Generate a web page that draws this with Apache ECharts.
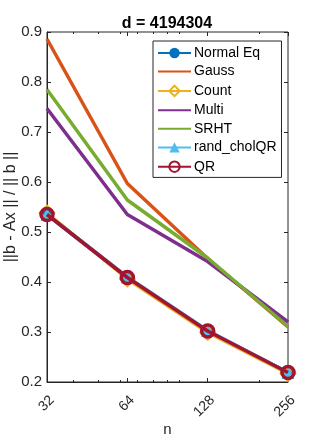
<!DOCTYPE html>
<html><head><meta charset="utf-8">
<script src="https://cdn.jsdelivr.net/npm/echarts@6/dist/echarts.min.js"></script>
<style>html,body{margin:0;padding:0;background:#fff}#c{width:319px;height:438px}</style>
</head><body><div id="c"></div>
<script>
const title = 'd = 4194304';
const nValues = [32, 64, 128, 256];
const xTickLabels = ['32', '64', '128', '256'];
const xMinorTicks = [40, 50, 60, 70, 80, 90, 100, 200];
const yTicks = [0.2, 0.3, 0.4, 0.5, 0.6, 0.7, 0.8, 0.9];
const seriesNames = ['Normal Eq', 'Gauss', 'Count', 'Multi', 'SRHT', 'rand_cholQR', 'QR'];
const normalEq = [0.535, 0.409, 0.302, 0.219];
const gauss = [0.886, 0.597, 0.447, 0.310];
const count = [0.538, 0.406, 0.299, 0.217];
const multi = [0.747, 0.535, 0.441, 0.320];
const srht = [0.785, 0.564, 0.448, 0.311];
const randCholQR = [0.535, 0.410, 0.303, 0.219];
const qr = [0.535, 0.409, 0.302, 0.219];

const colors = ['#0072BD', '#D95319', '#EDB120', '#7E2F8E', '#77AC30', '#4DBEEE', '#A2142F'];
const values = [normalEq, gauss, count, multi, srht, randCholQR, qr];
const symbols = [
  {symbol: 'circle', size: 10, fill: colors[0], border: colors[0], bw: 0},
  {symbol: 'none'},
  {symbol: 'diamond', size: 14, fill: 'none', border: colors[2], bw: 2.5},
  {symbol: 'none'},
  {symbol: 'none'},
  {symbol: 'triangle', size: 13, fill: colors[5], border: colors[5], bw: 0},
  {symbol: 'circle', size: 12, fill: 'none', border: colors[6], bw: 3.5}
];
const font = 'Liberation Sans, Arial, sans-serif';
const axisColor = '#262626';

const series = seriesNames.map((name, i) => {
  const s = symbols[i];
  return {
    name, type: 'line', xAxisIndex: 0, yAxisIndex: 0,
    data: nValues.map((n, j) => [n, values[i][j]]),
    symbol: s.symbol, symbolSize: s.size || 0, showSymbol: s.symbol !== 'none',
    lineStyle: {color: colors[i], width: 3.5},
    itemStyle: {color: s.fill || colors[i], borderColor: s.border || colors[i], borderWidth: s.bw || 0},
    z: 2 + i, animation: false, emphasis: {disabled: true}
  };
});

const legendData = seriesNames.map((name, i) =>
  symbols[i].symbol === 'none' ? {name, itemStyle: {opacity: 0}} : {name});

const chart = echarts.init(document.getElementById('c'), null, {renderer: 'canvas'});
chart.setOption({
  backgroundColor: '#fff',
  animation: false,
  color: colors,
  title: {text: title, left: 162, textAlign: 'center', top: 11,
    textStyle: {fontFamily: font, fontWeight: 'bold', fontSize: 16, color: '#000'}},
  grid: {left: 47, right: 31, top: 32, bottom: 56, show: true, borderColor: axisColor, borderWidth: 1,
    containLabel: false, outerBoundsMode: 'none'},
  legend: {
    orient: 'vertical', left: 153, top: 41, padding: [5, 5, 3, 4], itemGap: 4.6,
    itemWidth: 33, itemHeight: 13,
    backgroundColor: '#fff', borderColor: axisColor, borderWidth: 1, borderRadius: 0,
    textStyle: {fontFamily: font, fontSize: 14, lineHeight: 13, color: '#000', padding: [0, 0, 0, -2]},
    data: legendData
  },
  xAxis: [
    {type: 'log', logBase: 2, min: 32, max: 256, position: 'bottom',
      name: 'n', nameLocation: 'middle', nameGap: 40, nameMoveOverlap: false,
      nameTextStyle: {fontFamily: font, fontSize: 15, color: axisColor},
      axisLine: {show: true, lineStyle: {color: axisColor}},
      axisTick: {show: true, inside: true, length: 4, lineStyle: {color: axisColor}},
      axisLabel: {rotate: 45, verticalAlign: 'top', fontFamily: font, fontSize: 14, color: axisColor, margin: 11,
        customValues: nValues, formatter: (v) => xTickLabels[nValues.indexOf(Math.round(v))] || ''},
      splitLine: {show: false}},
    {type: 'log', logBase: 2, min: 32, max: 256, position: 'bottom',
      axisLine: {show: false}, axisLabel: {show: false}, splitLine: {show: false},
      axisTick: {show: true, inside: true, length: 2, customValues: xMinorTicks, lineStyle: {color: axisColor}}},
    {type: 'log', logBase: 2, min: 32, max: 256, position: 'top',
      axisLine: {show: false}, axisLabel: {show: false}, splitLine: {show: false},
      axisTick: {show: true, inside: true, length: 4, lineStyle: {color: axisColor}}},
    {type: 'log', logBase: 2, min: 32, max: 256, position: 'top',
      axisLine: {show: false}, axisLabel: {show: false}, splitLine: {show: false},
      axisTick: {show: true, inside: true, length: 2, customValues: xMinorTicks, lineStyle: {color: axisColor}}}
  ],
  yAxis: [
    {type: 'value', min: 0.2, max: 0.9, interval: 0.1, position: 'left',
      name: '||b - Ax || / || b ||', nameLocation: 'middle', nameGap: 28, nameRotate: 90, nameMoveOverlap: false,
      nameTextStyle: {fontFamily: font, fontSize: 16, color: axisColor},
      axisLine: {show: true, lineStyle: {color: axisColor}},
      axisTick: {show: true, inside: true, length: 4, lineStyle: {color: axisColor}},
      axisLabel: {fontFamily: font, fontSize: 15, color: axisColor, margin: 5,
        formatter: (v) => v.toFixed(1)},
      splitLine: {show: false}},
    {type: 'value', min: 0.2, max: 0.9, interval: 0.1, position: 'right',
      axisLine: {show: false}, axisLabel: {show: false}, splitLine: {show: false},
      axisTick: {show: true, inside: true, length: 4, lineStyle: {color: axisColor}}}
  ],
  series
});
</script></body></html>
